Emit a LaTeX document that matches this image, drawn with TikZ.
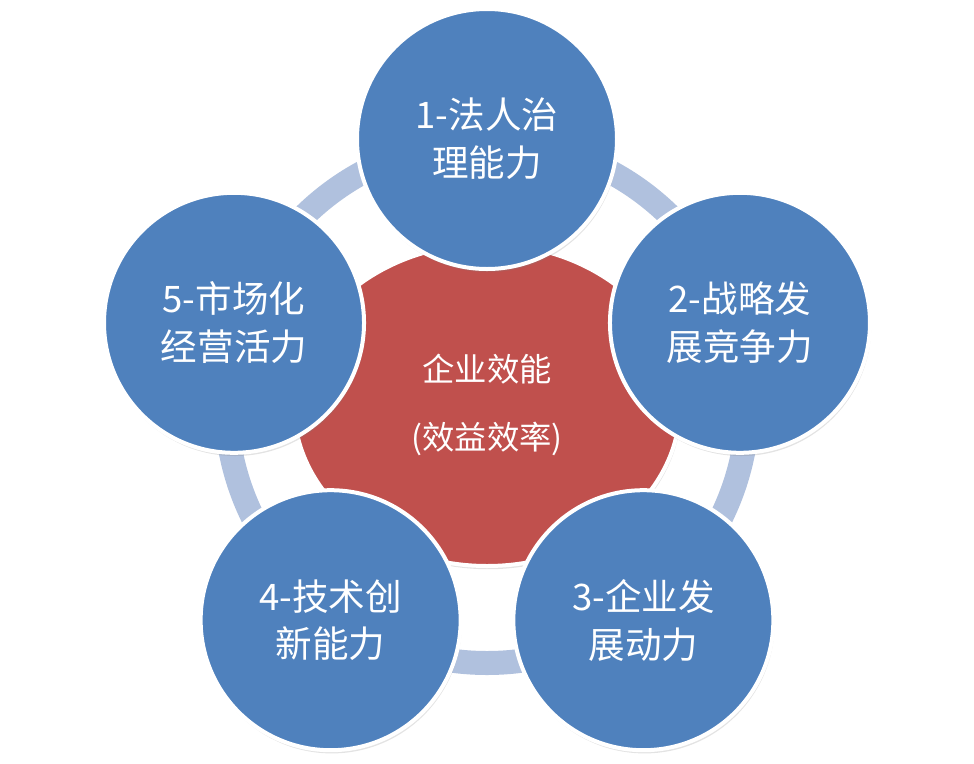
\documentclass[tikz,border=0pt]{standalone}
\usepackage{fontspec}
\setmainfont{Noto Sans CJK SC}
\usepackage{tikz}
\usetikzlibrary{shapes.geometric, shadows}
\definecolor{kreisblau}{RGB}{79,129,189}
\definecolor{kernrot}{RGB}{192,80,77}
\definecolor{ringblau}{RGB}{176,193,222}

\begin{document}
\begin{tikzpicture}[x=0.25mm, y=0.25mm,
		schatten/.style={drop shadow={shadow xshift=0.3mm, shadow yshift=-0.8mm, opacity=0.22}},
		sat/.style={circle, draw=white, line width=1mm, fill=kreisblau, minimum size=65mm,
			inner sep=0pt, align=center, text=white, schatten,
			font=\fontsize{26pt}{34pt}\selectfont},
		kernkreis/.style={ellipse, draw=white, line width=1mm, fill=kernrot,
			minimum width=96.5mm, minimum height=80.5mm, inner sep=0pt, align=center,
			text=white, schatten, font=\fontsize{23pt}{28pt}\selectfont}]
		% Bildbereich
		\useasboundingbox (-487,-358) rectangle (487,405);
		\coordinate (mitte) at (0,0);
		% Ring zeichnen
		\draw[ringblau, line width=6mm] (0,3) circle (261);
		% Kern
		\node[kernkreis] (kern) at (mitte) {企业效能\\[7mm](效益效率)};
		% Kreise aussen
		\foreach \n/\w/\txt in {1/90/{1-法人治\\理能力}, 2/18/{2-战略发\\展竞争力},
			3/-54/{3-企业发\\展动力}, 4/-126/{4-技术创\\新能力}, 5/162/{5-市场化\\经营活力}}
			\node[sat] (s\n) at (\w:266) {\txt};
	\end{tikzpicture}
\end{document}
